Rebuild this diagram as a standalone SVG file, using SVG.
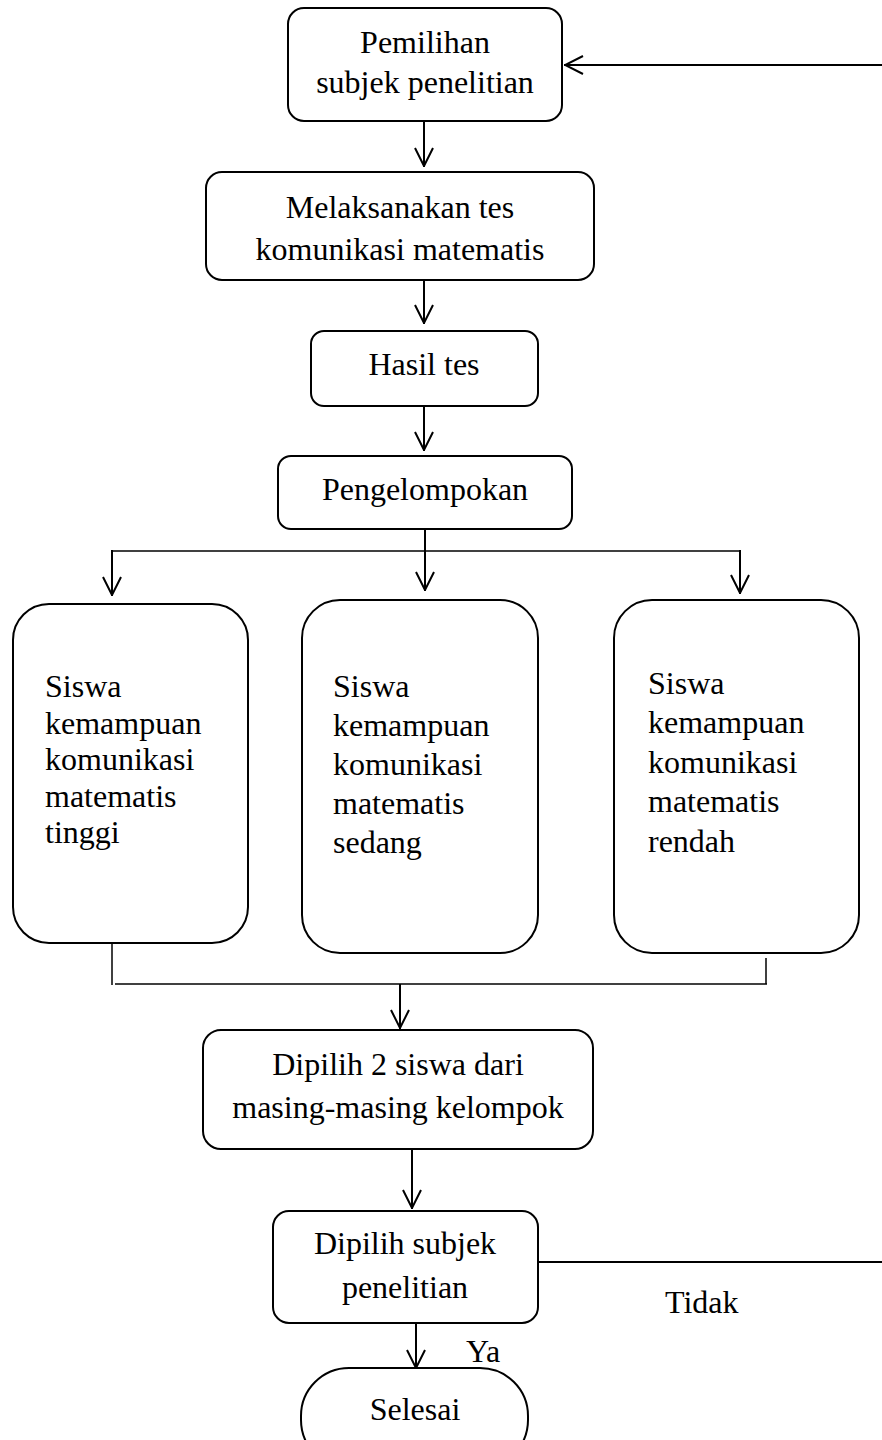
<svg xmlns="http://www.w3.org/2000/svg" width="882" height="1440" viewBox="0 0 882 1440">
<style>
.box{fill:#fff;stroke:#000;stroke-width:2}
.t{font-family:"Liberation Serif","Times New Roman",serif;font-size:32px;fill:#000}
.c{text-anchor:middle}
.ln{fill:none;stroke:#000;stroke-width:2}
.thin{fill:none;stroke:#000;stroke-width:1.5}
</style>
<defs>
<marker id="arr" viewBox="0 0 20 20" refX="20" refY="10" markerWidth="20" markerHeight="20" markerUnits="userSpaceOnUse" orient="auto">
<path d="M1,1 L19,10 L1,19" fill="none" stroke="#000" stroke-width="2"/>
</marker>
</defs>
<rect width="882" height="1440" fill="#fff"/>
<g id="connectors">
<line class="ln" x1="882" y1="65" x2="564" y2="65" marker-end="url(#arr)"/>
<line class="ln" x1="424" y1="121" x2="424" y2="167" marker-end="url(#arr)"/>
<line class="ln" x1="424" y1="281" x2="424" y2="324" marker-end="url(#arr)"/>
<line class="ln" x1="424" y1="407" x2="424" y2="451" marker-end="url(#arr)"/>
<line class="ln" x1="425" y1="529" x2="425" y2="591" marker-end="url(#arr)"/>
<line class="thin" x1="112" y1="551" x2="740" y2="551"/>
<line class="ln" x1="112" y1="550" x2="112" y2="596" marker-end="url(#arr)"/>
<line class="ln" x1="740" y1="550" x2="740" y2="594" marker-end="url(#arr)"/>
<line class="thin" x1="115" y1="765" x2="115" y2="788"/>
<line class="thin" x1="112" y1="943" x2="112" y2="985"/>
<line class="thin" x1="766" y1="958" x2="766" y2="984"/>
<line class="thin" x1="115" y1="984" x2="767" y2="984"/>
<line class="ln" x1="400" y1="984" x2="400" y2="1029" marker-end="url(#arr)"/>
<line class="ln" x1="412" y1="1149" x2="412" y2="1209" marker-end="url(#arr)"/>
<line class="ln" x1="538" y1="1262" x2="882" y2="1262"/>
<line class="ln" x1="416" y1="1323" x2="416" y2="1369" marker-end="url(#arr)"/>
</g>
<g id="n1">
<rect class="box" x="288" y="8" width="274" height="113" rx="16"/>
<text class="t c" x="425" y="53">Pemilihan</text>
<text class="t c" x="425" y="93">subjek penelitian</text>
</g>
<g id="n2">
<rect class="box" x="206" y="172" width="388" height="108" rx="16"/>
<text class="t c" x="400" y="218">Melaksanakan tes</text>
<text class="t c" x="400" y="260">komunikasi matematis</text>
</g>
<g id="n3">
<rect class="box" x="311" y="331" width="227" height="75" rx="13"/>
<text class="t c" x="424" y="375">Hasil tes</text>
</g>
<g id="n4">
<rect class="box" x="278" y="456" width="294" height="73" rx="13"/>
<text class="t c" x="425" y="500">Pengelompokan</text>
</g>
<g id="n5">
<rect class="box" x="13" y="604" width="235" height="339" rx="36"/>
<text class="t" x="45" y="697">Siswa</text>
<text class="t" x="45" y="734">kemampuan</text>
<text class="t" x="45" y="770">komunikasi</text>
<text class="t" x="45" y="807">matematis</text>
<text class="t" x="45" y="843">tinggi</text>
</g>
<g id="n6">
<rect class="box" x="302" y="600" width="236" height="353" rx="38"/>
<text class="t" x="333" y="697">Siswa</text>
<text class="t" x="333" y="736">kemampuan</text>
<text class="t" x="333" y="775">komunikasi</text>
<text class="t" x="333" y="814">matematis</text>
<text class="t" x="333" y="853">sedang</text>
</g>
<g id="n7">
<rect class="box" x="614" y="600" width="245" height="353" rx="38"/>
<text class="t" x="648" y="694">Siswa</text>
<text class="t" x="648" y="733">kemampuan</text>
<text class="t" x="648" y="773">komunikasi</text>
<text class="t" x="648" y="812">matematis</text>
<text class="t" x="648" y="852">rendah</text>
</g>
<g id="n8">
<rect class="box" x="203" y="1030" width="390" height="119" rx="18"/>
<text class="t c" x="398" y="1075">Dipilih 2 siswa dari</text>
<text class="t c" x="398" y="1118">masing-masing kelompok</text>
</g>
<g id="n9">
<rect class="box" x="273" y="1211" width="265" height="112" rx="16"/>
<text class="t c" x="405" y="1254">Dipilih subjek</text>
<text class="t c" x="405" y="1298">penelitian</text>
</g>
<g id="n10">
<rect class="box" x="301" y="1368" width="227" height="100" rx="48"/>
<text class="t c" x="415" y="1420">Selesai</text>
</g>
<g id="labels">
<text class="t" x="665" y="1313">Tidak</text>
<text class="t" x="466" y="1362">Ya</text>
</g>
</svg>
